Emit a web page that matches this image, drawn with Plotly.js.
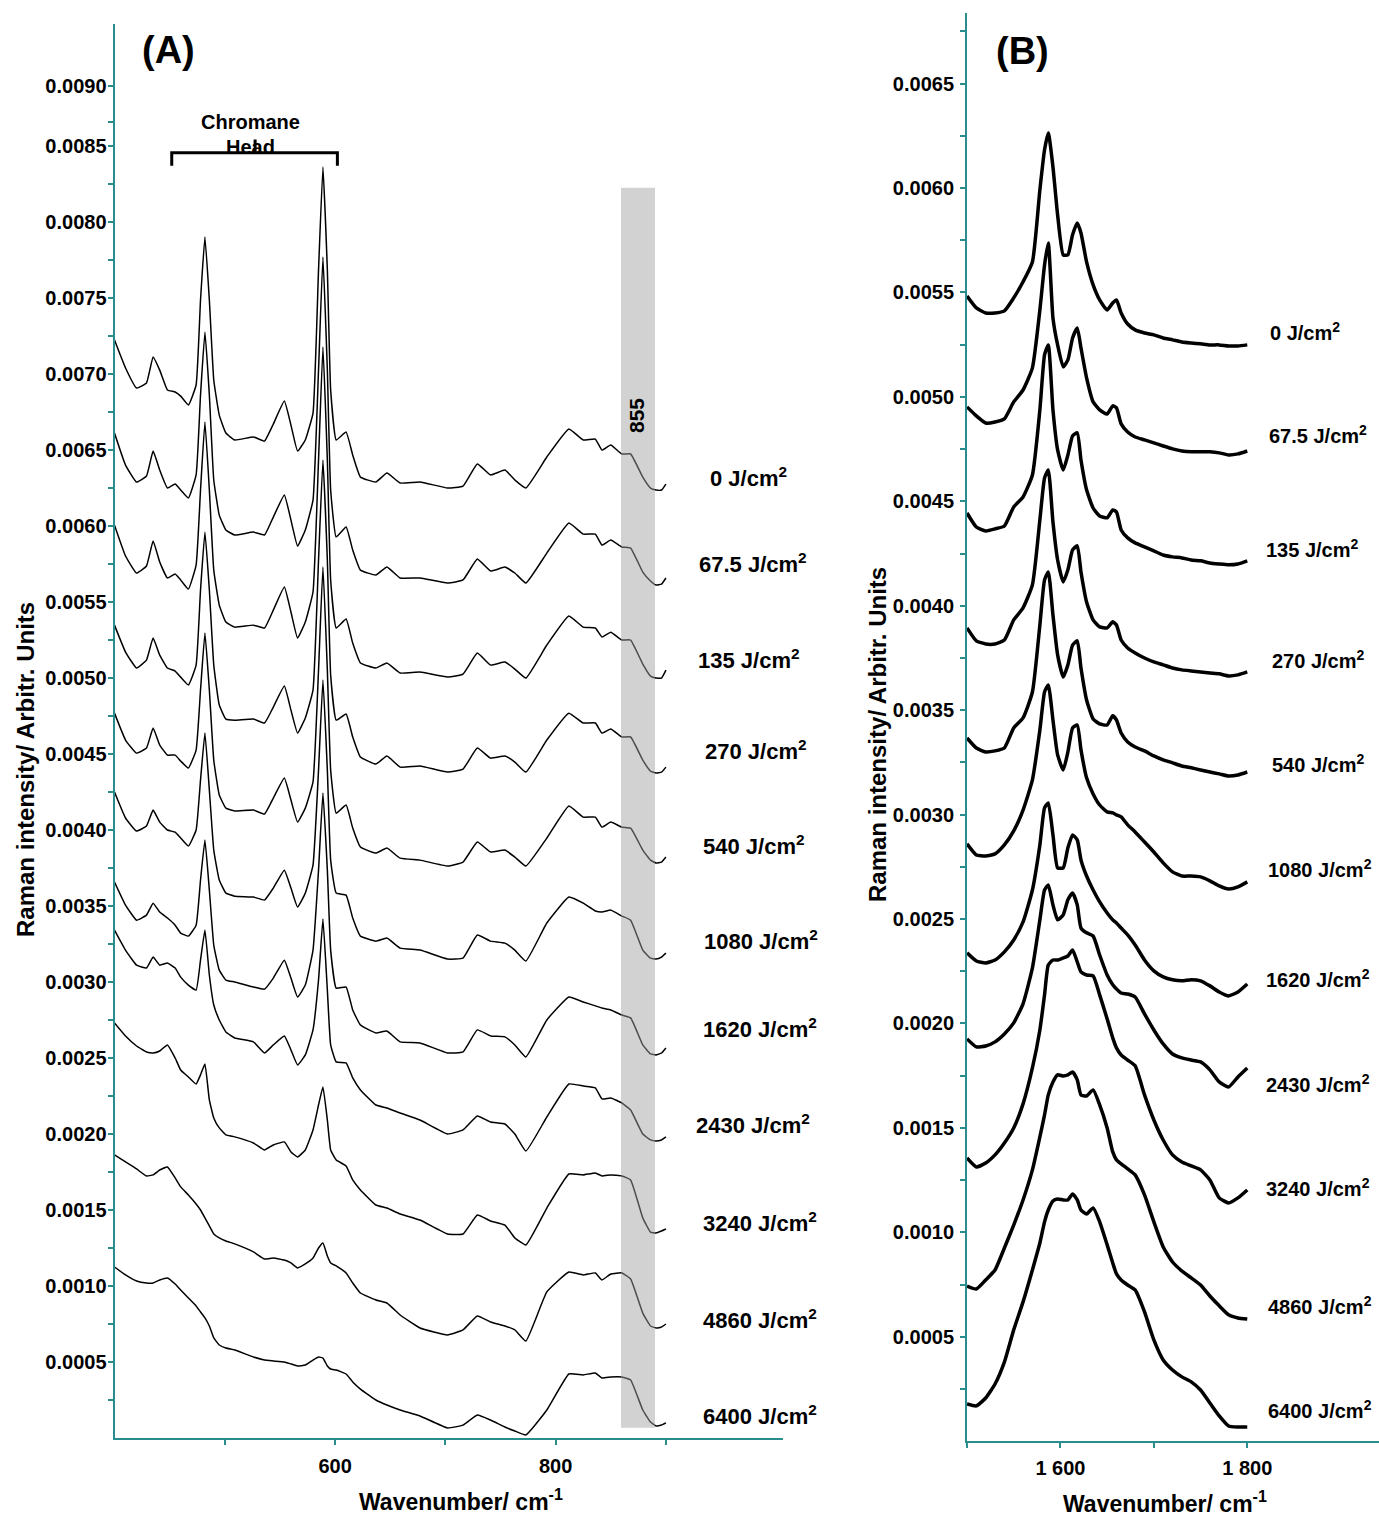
<!DOCTYPE html>
<html><head><meta charset="utf-8">
<script src="https://cdn.plot.ly/plotly-3.0.1.min.js"></script>
<style>html,body{margin:0;padding:0;background:#fff}#chart{width:1379px;height:1517px}</style>
</head><body><div id="chart"></div>
<script>
// ---------- DATA ----------
const fluences = ['0', '67.5', '135', '270', '540', '1080', '1620', '2430', '3240', '4860', '6400'];

// Panel A wavenumbers (cm-1)
const wnA = [400, 410, 420, 429, 435, 441, 448, 455, 460, 467, 474, 478, 482, 486, 490, 495, 501, 509, 526, 536, 544, 554, 560, 566, 573, 580, 585, 589, 593, 596, 601, 610, 616, 623, 637, 647, 659, 677, 702, 716, 729, 741, 754, 763, 773, 792, 812, 825, 836, 842, 850, 860, 868, 879, 886, 891, 896, 900];

const ramanA_0 = [0.007226, 0.007042, 0.006910, 0.006943, 0.007114, 0.007028, 0.006897, 0.006884, 0.006857, 0.006798, 0.006930, 0.007489, 0.007904, 0.007489, 0.006963, 0.006732, 0.006614, 0.006568, 0.006588, 0.006561, 0.006673, 0.006824, 0.006666, 0.006495, 0.006568, 0.006745, 0.007686, 0.008364, 0.007686, 0.006897, 0.006568, 0.006620, 0.006469, 0.006324, 0.006292, 0.006351, 0.006285, 0.006292, 0.006252, 0.006265, 0.006410, 0.006338, 0.006370, 0.006305, 0.006252, 0.006456, 0.006640, 0.006568, 0.006574, 0.006502, 0.006535, 0.006476, 0.006476, 0.006324, 0.006252, 0.006239, 0.006239, 0.006278];
const ramanA_67 = [0.006614, 0.006403, 0.006292, 0.006331, 0.006495, 0.006370, 0.006252, 0.006278, 0.006239, 0.006186, 0.006338, 0.006864, 0.007278, 0.006864, 0.006305, 0.006074, 0.005976, 0.005943, 0.005962, 0.005943, 0.006061, 0.006206, 0.006041, 0.005870, 0.005976, 0.006173, 0.007028, 0.007772, 0.007028, 0.006239, 0.005930, 0.005995, 0.005844, 0.005712, 0.005680, 0.005732, 0.005660, 0.005660, 0.005627, 0.005647, 0.005785, 0.005706, 0.005732, 0.005693, 0.005627, 0.005824, 0.006022, 0.005949, 0.005949, 0.005877, 0.005910, 0.005864, 0.005857, 0.005699, 0.005640, 0.005614, 0.005620, 0.005660];
const ramanA_135 = [0.006008, 0.005805, 0.005693, 0.005739, 0.005903, 0.005765, 0.005660, 0.005686, 0.005647, 0.005587, 0.005745, 0.006239, 0.006686, 0.006239, 0.005712, 0.005482, 0.005370, 0.005337, 0.005350, 0.005331, 0.005449, 0.005601, 0.005436, 0.005265, 0.005370, 0.005568, 0.006436, 0.007180, 0.006436, 0.005647, 0.005331, 0.005390, 0.005232, 0.005101, 0.005068, 0.005101, 0.005035, 0.005041, 0.005008, 0.005028, 0.005166, 0.005087, 0.005107, 0.005061, 0.005002, 0.005219, 0.005410, 0.005337, 0.005331, 0.005272, 0.005304, 0.005252, 0.005252, 0.005094, 0.005015, 0.005002, 0.005002, 0.005054];
const ramanA_270 = [0.005350, 0.005173, 0.005068, 0.005120, 0.005265, 0.005153, 0.005068, 0.005048, 0.005008, 0.004956, 0.005087, 0.005581, 0.005962, 0.005581, 0.005087, 0.004824, 0.004732, 0.004725, 0.004732, 0.004706, 0.004811, 0.004949, 0.004791, 0.004640, 0.004739, 0.004923, 0.005778, 0.006436, 0.005778, 0.005022, 0.004725, 0.004765, 0.004614, 0.004482, 0.004436, 0.004489, 0.004416, 0.004423, 0.004383, 0.004403, 0.004541, 0.004475, 0.004489, 0.004449, 0.004383, 0.004594, 0.004771, 0.004706, 0.004706, 0.004640, 0.004666, 0.004614, 0.004614, 0.004462, 0.004390, 0.004377, 0.004383, 0.004416];
const ramanA_540 = [0.004771, 0.004594, 0.004508, 0.004541, 0.004673, 0.004561, 0.004495, 0.004495, 0.004456, 0.004410, 0.004528, 0.004923, 0.005298, 0.004923, 0.004462, 0.004232, 0.004146, 0.004127, 0.004133, 0.004107, 0.004212, 0.004344, 0.004199, 0.004054, 0.004146, 0.004318, 0.005054, 0.005732, 0.005054, 0.004396, 0.004113, 0.004166, 0.004015, 0.003890, 0.003850, 0.003883, 0.003817, 0.003804, 0.003765, 0.003791, 0.003923, 0.003857, 0.003870, 0.003824, 0.003765, 0.003949, 0.004160, 0.004087, 0.004087, 0.004021, 0.004054, 0.004021, 0.004015, 0.003870, 0.003804, 0.003785, 0.003791, 0.003824];
const ramanA_1080 = [0.004252, 0.004081, 0.003995, 0.004028, 0.004133, 0.004054, 0.004002, 0.003988, 0.003949, 0.003896, 0.004002, 0.004331, 0.004640, 0.004265, 0.003870, 0.003673, 0.003587, 0.003567, 0.003561, 0.003541, 0.003620, 0.003738, 0.003620, 0.003495, 0.003587, 0.003771, 0.004396, 0.004989, 0.004396, 0.003804, 0.003587, 0.003574, 0.003423, 0.003304, 0.003271, 0.003291, 0.003225, 0.003212, 0.003153, 0.003159, 0.003311, 0.003271, 0.003258, 0.003212, 0.003140, 0.003390, 0.003561, 0.003521, 0.003469, 0.003462, 0.003475, 0.003436, 0.003409, 0.003212, 0.003159, 0.003153, 0.003166, 0.003192];
const ramanA_1620 = [0.003660, 0.003508, 0.003409, 0.003442, 0.003521, 0.003462, 0.003423, 0.003376, 0.003324, 0.003304, 0.003376, 0.003673, 0.003936, 0.003607, 0.003245, 0.003080, 0.003015, 0.003002, 0.002969, 0.002955, 0.003028, 0.003146, 0.003028, 0.002903, 0.002982, 0.003212, 0.003738, 0.004245, 0.003738, 0.003212, 0.002962, 0.002969, 0.002818, 0.002719, 0.002667, 0.002680, 0.002608, 0.002601, 0.002535, 0.002542, 0.002687, 0.002647, 0.002641, 0.002588, 0.002509, 0.002752, 0.002903, 0.002871, 0.002845, 0.002831, 0.002818, 0.002785, 0.002766, 0.002588, 0.002529, 0.002522, 0.002535, 0.002568];
const ramanA_2430 = [0.003344, 0.003212, 0.003113, 0.003094, 0.003166, 0.003113, 0.003127, 0.003094, 0.003034, 0.002982, 0.002949, 0.003146, 0.003344, 0.003048, 0.002851, 0.002752, 0.002673, 0.002634, 0.002608, 0.002535, 0.002588, 0.002647, 0.002555, 0.002456, 0.002522, 0.002687, 0.003015, 0.003416, 0.002949, 0.002588, 0.002476, 0.002470, 0.002371, 0.002292, 0.002193, 0.002173, 0.002140, 0.002094, 0.002002, 0.002029, 0.002121, 0.002081, 0.002068, 0.002002, 0.001890, 0.002114, 0.002331, 0.002318, 0.002305, 0.002233, 0.002239, 0.002206, 0.002160, 0.002002, 0.001963, 0.001956, 0.001963, 0.001983];
const ramanA_3240 = [0.002733, 0.002647, 0.002581, 0.002542, 0.002535, 0.002548, 0.002588, 0.002502, 0.002423, 0.002377, 0.002331, 0.002391, 0.002463, 0.002226, 0.002108, 0.002042, 0.001996, 0.001983, 0.001943, 0.001897, 0.001930, 0.001950, 0.001884, 0.001851, 0.001897, 0.002029, 0.002193, 0.002312, 0.002094, 0.001897, 0.001831, 0.001792, 0.001700, 0.001634, 0.001535, 0.001515, 0.001476, 0.001436, 0.001344, 0.001344, 0.001469, 0.001430, 0.001403, 0.001318, 0.001272, 0.001515, 0.001739, 0.001733, 0.001746, 0.001726, 0.001733, 0.001726, 0.001700, 0.001450, 0.001357, 0.001351, 0.001364, 0.001377];
const ramanA_4860 = [0.001864, 0.001818, 0.001772, 0.001726, 0.001733, 0.001765, 0.001785, 0.001713, 0.001654, 0.001601, 0.001542, 0.001502, 0.001450, 0.001397, 0.001344, 0.001318, 0.001298, 0.001279, 0.001226, 0.001180, 0.001186, 0.001173, 0.001154, 0.001121, 0.001147, 0.001186, 0.001252, 0.001285, 0.001200, 0.001154, 0.001134, 0.001088, 0.001022, 0.000956, 0.000910, 0.000890, 0.000811, 0.000726, 0.000680, 0.000713, 0.000805, 0.000765, 0.000739, 0.000713, 0.000640, 0.000963, 0.001094, 0.001075, 0.001088, 0.001042, 0.001081, 0.001088, 0.001048, 0.000824, 0.000739, 0.000726, 0.000732, 0.000752];
const ramanA_6400 = [0.001127, 0.001075, 0.001035, 0.001022, 0.001022, 0.001042, 0.001055, 0.001015, 0.000976, 0.000923, 0.000871, 0.000831, 0.000792, 0.000739, 0.000660, 0.000614, 0.000594, 0.000581, 0.000535, 0.000515, 0.000509, 0.000502, 0.000489, 0.000476, 0.000482, 0.000515, 0.000535, 0.000528, 0.000476, 0.000456, 0.000449, 0.000423, 0.000371, 0.000324, 0.000252, 0.000219, 0.000186, 0.000147, 0.000068, 0.000087, 0.000153, 0.000120, 0.000074, 0.000048, 0.000022, 0.000186, 0.000423, 0.000417, 0.000430, 0.000397, 0.000403, 0.000403, 0.000384, 0.000186, 0.000107, 0.000081, 0.000087, 0.000101];

// Panel B wavenumbers (cm-1)
const wnB = [1500, 1510, 1520, 1530, 1540, 1550, 1560, 1570, 1578, 1583, 1587, 1592, 1597, 1603, 1608, 1613, 1618, 1622, 1628, 1635, 1642, 1650, 1656, 1660, 1665, 1672, 1680, 1690, 1700, 1710, 1720, 1730, 1740, 1750, 1760, 1770, 1780, 1790, 1800];

const ramanB_0 = [0.005483, 0.005426, 0.005402, 0.005402, 0.005412, 0.005474, 0.005551, 0.005646, 0.005991, 0.006183, 0.006264, 0.006101, 0.005871, 0.005680, 0.005680, 0.005776, 0.005833, 0.005785, 0.005646, 0.005536, 0.005464, 0.005416, 0.005450, 0.005464, 0.005402, 0.005349, 0.005321, 0.005306, 0.005297, 0.005282, 0.005273, 0.005263, 0.005258, 0.005254, 0.005249, 0.005249, 0.005244, 0.005244, 0.005249];
const ramanB_67 = [0.004952, 0.004909, 0.004875, 0.004880, 0.004895, 0.004976, 0.005033, 0.005139, 0.005416, 0.005632, 0.005737, 0.005378, 0.005249, 0.005144, 0.005177, 0.005282, 0.005330, 0.005234, 0.005091, 0.004976, 0.004938, 0.004918, 0.004957, 0.004947, 0.004871, 0.004832, 0.004808, 0.004794, 0.004780, 0.004765, 0.004751, 0.004741, 0.004737, 0.004737, 0.004737, 0.004732, 0.004722, 0.004727, 0.004741];
const ramanB_135 = [0.004444, 0.004377, 0.004358, 0.004368, 0.004382, 0.004473, 0.004521, 0.004626, 0.004938, 0.005201, 0.005249, 0.004938, 0.004746, 0.004650, 0.004722, 0.004813, 0.004828, 0.004698, 0.004555, 0.004468, 0.004430, 0.004421, 0.004459, 0.004449, 0.004363, 0.004325, 0.004301, 0.004282, 0.004263, 0.004243, 0.004234, 0.004229, 0.004219, 0.004215, 0.004205, 0.004200, 0.004196, 0.004200, 0.004215];
const ramanB_270 = [0.003894, 0.003832, 0.003817, 0.003817, 0.003836, 0.003932, 0.003990, 0.004100, 0.004411, 0.004612, 0.004650, 0.004401, 0.004219, 0.004114, 0.004172, 0.004267, 0.004287, 0.004162, 0.004018, 0.003932, 0.003899, 0.003894, 0.003923, 0.003908, 0.003836, 0.003798, 0.003774, 0.003750, 0.003731, 0.003717, 0.003702, 0.003693, 0.003688, 0.003683, 0.003678, 0.003674, 0.003664, 0.003669, 0.003683];
const ramanB_540 = [0.003367, 0.003319, 0.003300, 0.003305, 0.003319, 0.003415, 0.003463, 0.003587, 0.003908, 0.004124, 0.004162, 0.003956, 0.003765, 0.003659, 0.003717, 0.003812, 0.003832, 0.003702, 0.003549, 0.003458, 0.003434, 0.003429, 0.003473, 0.003453, 0.003391, 0.003348, 0.003324, 0.003305, 0.003281, 0.003262, 0.003248, 0.003233, 0.003224, 0.003214, 0.003204, 0.003195, 0.003185, 0.003190, 0.003204];
const ramanB_1080 = [0.002860, 0.002807, 0.002802, 0.002812, 0.002855, 0.002922, 0.003022, 0.003166, 0.003405, 0.003587, 0.003621, 0.003453, 0.003286, 0.003214, 0.003300, 0.003415, 0.003429, 0.003310, 0.003176, 0.003099, 0.003046, 0.003013, 0.003008, 0.002999, 0.002989, 0.002951, 0.002917, 0.002869, 0.002821, 0.002769, 0.002726, 0.002706, 0.002706, 0.002702, 0.002683, 0.002659, 0.002644, 0.002654, 0.002678];
const ramanB_1620 = [0.002338, 0.002299, 0.002290, 0.002304, 0.002343, 0.002400, 0.002486, 0.002639, 0.002855, 0.003032, 0.003056, 0.002903, 0.002745, 0.002745, 0.002841, 0.002903, 0.002879, 0.002783, 0.002706, 0.002639, 0.002582, 0.002529, 0.002496, 0.002481, 0.002457, 0.002424, 0.002376, 0.002304, 0.002252, 0.002223, 0.002209, 0.002204, 0.002209, 0.002204, 0.002180, 0.002151, 0.002132, 0.002151, 0.002189];
const ramanB_2430 = [0.001926, 0.001888, 0.001892, 0.001912, 0.001950, 0.002003, 0.002094, 0.002266, 0.002496, 0.002639, 0.002663, 0.002568, 0.002496, 0.002520, 0.002592, 0.002625, 0.002568, 0.002457, 0.002434, 0.002419, 0.002328, 0.002232, 0.002185, 0.002165, 0.002146, 0.002141, 0.002127, 0.002046, 0.001969, 0.001902, 0.001854, 0.001835, 0.001825, 0.001816, 0.001778, 0.001720, 0.001696, 0.001744, 0.001787];
const ramanB_3240 = [0.001356, 0.001313, 0.001332, 0.001371, 0.001428, 0.001500, 0.001615, 0.001787, 0.001969, 0.002137, 0.002280, 0.002304, 0.002304, 0.002314, 0.002323, 0.002352, 0.002295, 0.002247, 0.002232, 0.002228, 0.002137, 0.002022, 0.001931, 0.001883, 0.001849, 0.001825, 0.001797, 0.001658, 0.001538, 0.001442, 0.001371, 0.001337, 0.001318, 0.001299, 0.001251, 0.001165, 0.001141, 0.001165, 0.001203];
const ramanB_4860 = [0.000743, 0.000729, 0.000772, 0.000820, 0.000925, 0.001035, 0.001155, 0.001299, 0.001457, 0.001562, 0.001658, 0.001720, 0.001754, 0.001749, 0.001754, 0.001768, 0.001730, 0.001658, 0.001653, 0.001682, 0.001610, 0.001500, 0.001385, 0.001347, 0.001328, 0.001304, 0.001275, 0.001179, 0.001050, 0.000930, 0.000858, 0.000815, 0.000782, 0.000748, 0.000695, 0.000648, 0.000605, 0.000590, 0.000585];
const ramanB_6400 = [0.000178, 0.000169, 0.000207, 0.000274, 0.000379, 0.000533, 0.000667, 0.000820, 0.000949, 0.001050, 0.001107, 0.001150, 0.001160, 0.001155, 0.001155, 0.001184, 0.001155, 0.001107, 0.001088, 0.001117, 0.001050, 0.000940, 0.000853, 0.000801, 0.000772, 0.000748, 0.000724, 0.000619, 0.000485, 0.000389, 0.000341, 0.000308, 0.000284, 0.000245, 0.000183, 0.000121, 0.000073, 0.000068, 0.000068];

// tick labels
const yTickValsA = [0.0005, 0.0010, 0.0015, 0.0020, 0.0025, 0.0030, 0.0035, 0.0040, 0.0045, 0.0050, 0.0055, 0.0060, 0.0065, 0.0070, 0.0075, 0.0080, 0.0085, 0.0089];
const yTickTextA = ['0.0005', '0.0010', '0.0015', '0.0020', '0.0025', '0.0030', '0.0035', '0.0040', '0.0045', '0.0050', '0.0055', '0.0060', '0.0065', '0.0070', '0.0075', '0.0080', '0.0085', '0.0090'];
const yTickValsB = [0.0005, 0.0010, 0.0015, 0.0020, 0.0025, 0.0030, 0.0035, 0.0040, 0.0045, 0.0050, 0.0055, 0.0060, 0.0065];
const yTickTextB = ['0.0005', '0.0010', '0.0015', '0.0020', '0.0025', '0.0030', '0.0035', '0.0040', '0.0045', '0.0050', '0.0055', '0.0060', '0.0065'];
const xTickValsA = [500, 600, 700, 800, 900];
const xTickTextA = ['', '600', '', '800', ''];
const xTickValsB = [1500, 1600, 1700, 1800];
const xTickTextB = ['', '1 600', '', '1 800'];

// ---------- BUILD ----------
const seriesA = [ramanA_0, ramanA_67, ramanA_135, ramanA_270, ramanA_540, ramanA_1080, ramanA_1620, ramanA_2430, ramanA_3240, ramanA_4860, ramanA_6400];
const seriesB = [ramanB_0, ramanB_67, ramanB_135, ramanB_270, ramanB_540, ramanB_1080, ramanB_1620, ramanB_2430, ramanB_3240, ramanB_4860, ramanB_6400];

const W = 1379, H = 1517;
const TEAL = '#2b8c8c';
const FONT = 'Liberation Sans, Arial, Helvetica, sans-serif';
const px = (x) => x / W, py = (y) => 1 - y / H;

const traces = [];
seriesA.forEach((s, i) => traces.push({x: wnA, y: s, xaxis: 'x', yaxis: 'y', mode: 'lines', name: fluences[i] + ' J/cm²', line: {color: '#000', width: 1.5, shape: 'spline', smoothing: 0.35}, hoverinfo: 'skip'}));
seriesB.forEach((s, i) => traces.push({x: wnB, y: s, xaxis: 'x2', yaxis: 'y2', mode: 'lines', name: fluences[i] + ' J/cm²', line: {color: '#000', width: 3.5, shape: 'spline', smoothing: 0.5}, hoverinfo: 'skip'}));

const tickFont = {family: FONT, size: 20, color: '#000', weight: 'bold'};
const axisCommon = {showline: true, linecolor: TEAL, linewidth: 2, ticks: 'outside', tickcolor: TEAL, tickwidth: 2, ticklen: 5, showgrid: false, zeroline: false, tickfont: tickFont, fixedrange: true};

const minorA = []; for (let k = 0; k < 17; k++) minorA.push(0.00025 + k * 0.0005); minorA.push(0.00866);
const minorB = []; for (let k = 0; k < 14; k++) minorB.push(0.00025 + k * 0.0005);

// label positions (pixels) for fluence labels
const labelPosA = [[748, 477], [753, 563], [749, 659], [756, 750], [754, 845], [761, 940], [760, 1028], [753, 1124], [760, 1222], [760, 1319], [760, 1415]];
const labelPosB = [[1305, 331], [1318, 435], [1312, 548], [1318, 660], [1318, 763], [1320, 868], [1318, 978], [1318, 1083], [1318, 1187], [1320, 1305], [1320, 1409]];

const bold = (s) => ({family: FONT, size: s, color: '#000', weight: 'bold'});
const note = (x, y, text, size, extra) => Object.assign({xref: 'paper', yref: 'paper', x: px(x), y: py(y), text: text, showarrow: false, xanchor: 'center', yanchor: 'middle', font: bold(size)}, extra || {});

const annotations = [];
fluences.forEach((f, i) => {
  annotations.push(note(labelPosA[i][0], labelPosA[i][1], f + ' J/cm<sup>2</sup>', 22));
  annotations.push(note(labelPosB[i][0], labelPosB[i][1], f + ' J/cm<sup>2</sup>', 20));
});
annotations.push(
  note(168, 50, '(A)', 38),
  note(1022, 51, '(B)', 38),
  note(250, 122, 'Chromane', 20),
  note(250.5, 147.5, 'Head', 20),
  note(636, 416, '855', 21, {textangle: -90}),
  note(461, 1500, 'Wavenumber/ cm<sup>-1</sup>', 23),
  note(1165, 1502, 'Wavenumber/ cm<sup>-1</sup>', 23),
  note(25, 770, 'Raman intensity/ Arbitr. Units', 24, {textangle: -90}),
  note(877, 735, 'Raman intensity/ Arbitr. Units', 24, {textangle: -90})
);

const shapes = [
  // highlighted 855 band
  {type: 'rect', xref: 'x', yref: 'y', x0: 859.3, x1: 890.1, y0: 0.00007, y1: 0.008228, fillcolor: 'rgba(160,160,160,0.48)', line: {width: 0}, layer: 'above'},
  // Chromane head bracket
  {type: 'path', xref: 'x', yref: 'y', path: 'M 451.9 0.008372 L 451.9 0.008458 L 602.1 0.008458 L 602.1 0.008372', line: {color: '#000', width: 3}},
  {type: 'line', xref: 'x', yref: 'y', x0: 527.5, x1: 527.5, y0: 0.008458, y1: 0.008545, line: {color: '#000', width: 3}}
];

const layout = {
  width: W, height: H, margin: {l: 0, r: 0, t: 0, b: 0},
  paper_bgcolor: '#fff', plot_bgcolor: 'rgba(0,0,0,0)', showlegend: false,
  xaxis: Object.assign({}, axisCommon, {domain: [px(114.5), px(782.5)], range: [400, 1005.7], anchor: 'y', tickmode: 'array', tickvals: xTickValsA, ticktext: xTickTextA, ticklabelstandoff: 4}),
  yaxis: Object.assign({}, axisCommon, {domain: [py(1438.3), py(24)], range: [0, 0.009305], anchor: 'x', tickmode: 'array', tickvals: yTickValsA, ticktext: yTickTextA, ticklabelstandoff: -3,
    minor: {tickmode: 'array', tickvals: minorA, ticks: 'outside', ticklen: 5, tickcolor: TEAL, tickwidth: 2, showgrid: false}}),
  xaxis2: Object.assign({}, axisCommon, {domain: [px(967), 1], range: [1500, 1941], anchor: 'y2', tickmode: 'array', tickvals: xTickValsB, ticktext: xTickTextB, ticklabelstandoff: 3}),
  yaxis2: Object.assign({}, axisCommon, {domain: [py(1441.2), py(13)], range: [0, 0.006838], anchor: 'x2', tickmode: 'array', tickvals: yTickValsB, ticktext: yTickTextB, ticklabelstandoff: 2,
    minor: {tickmode: 'array', tickvals: minorB, ticks: 'outside', ticklen: 5, tickcolor: TEAL, tickwidth: 2, showgrid: false}}),
  annotations: annotations,
  shapes: shapes
};

Plotly.newPlot('chart', traces, layout, {displayModeBar: false, staticPlot: true});
</script>
</body></html>
